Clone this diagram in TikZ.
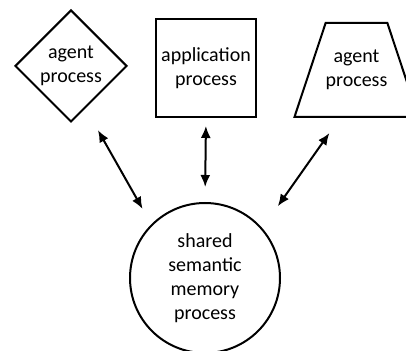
\documentclass[tikz,border=0pt]{standalone}
\usepackage{fontspec}
\setmainfont{Carlito}
\usetikzlibrary{shapes.geometric,arrows.meta}

\begin{document}
\begin{tikzpicture}[x=0.5pt,y=-0.5pt]
		%\draw[help lines] (0,0) grid (406,351);
		\useasboundingbox (0,0) rectangle (406,351);
		\tikzset{ProcStyle/.style = {draw, line width=1pt, inner sep=0pt, align=center,
		font=\fontsize{10}{12}\selectfont},
		LinkStyle/.style = {line width=1pt, {Latex[length=6pt,width=5pt]}-{Latex[length=6pt,width=5pt]}}}
		\node[ProcStyle, diamond, aspect=1, minimum size=56pt] (agentA) at (71,66) {agent\\process};
		\node[ProcStyle, rectangle, minimum width=50pt, minimum height=49pt] (app) at (206,68) {application\\process};
		\node[ProcStyle, trapezium, trapezium angle=52, trapezium stretches body=true,
		minimum width=59.5pt, minimum height=47pt] (agentB) at (356.5,70) {agent\\process};
		\node[ProcStyle, circle, minimum size=75pt] (mem) at (205,278) {shared\\semantic\\memory\\process};
		\draw[LinkStyle, shorten <=12.5pt, shorten >=8.8pt] (agentA.-71) -- (mem.135);
		\draw[LinkStyle, shorten <=4pt, shorten >=7.5pt] (app.south) -- (mem.north);
		\draw[LinkStyle, shorten <=9.2pt, shorten >=13.4pt] (agentB.-109) -- (mem.41);
	\end{tikzpicture}
\end{document}
